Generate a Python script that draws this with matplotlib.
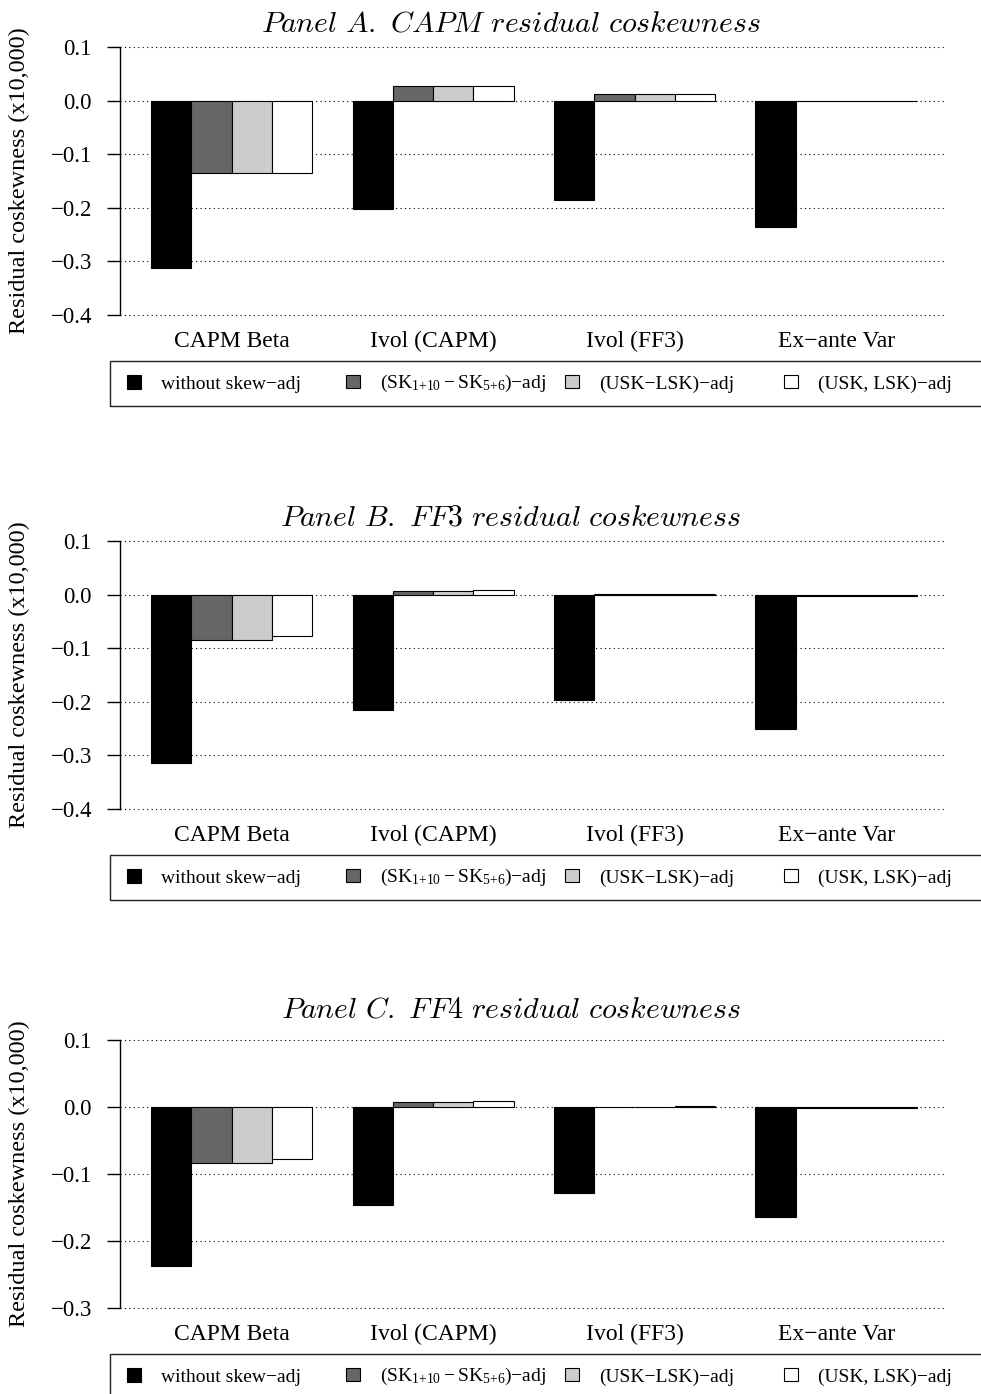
import numpy as np
import matplotlib
matplotlib.use("Agg")
import matplotlib.pyplot as plt
from matplotlib.patches import Patch, Rectangle

plt.rcParams["font.family"] = ["Liberation Serif", "DejaVu Serif"]
plt.rcParams["mathtext.fontset"] = "custom"
plt.rcParams["mathtext.rm"] = "Liberation Serif"
plt.rcParams["mathtext.default"] = "regular"
plt.rcParams["axes.unicode_minus"] = True

MINUS = "\u2212"

# ---- data ----
categories = ["CAPM Beta", "Ivol (CAPM)", "Ivol (FF3)", "Ex" + MINUS + "ante Var"]
series_labels = [
    "without skew" + MINUS + "adj",
    r"(SK$_{1{+}10}\,{-}\,$SK$_{5{+}6}$)" + MINUS + "adj",
    "(USK" + MINUS + "LSK)" + MINUS + "adj",
    "(USK, LSK)" + MINUS + "adj",
]
series_colors = ["#000000", "#666666", "#cccccc", "#ffffff"]

panel_titles = [
    r"$\mathit{Panel\ A.\ CAPM\ residual\ coskewness}$",
    r"$\mathit{Panel\ B.\ FF3\ residual\ coskewness}$",
    r"$\mathit{Panel\ C.\ FF4\ residual\ coskewness}$",
]

# rows: series, columns: categories
panel_a = [
    [-0.313, -0.202, -0.186, -0.236],
    [-0.136, 0.027, 0.013, -0.001],
    [-0.136, 0.027, 0.013, -0.001],
    [-0.136, 0.027, 0.013, -0.001],
]
panel_b = [
    [-0.314, -0.216, -0.197, -0.251],
    [-0.084, 0.006, 0.001, -0.002],
    [-0.084, 0.006, 0.001, -0.002],
    [-0.0765, 0.009, 0.002, -0.002],
]
panel_c = [
    [-0.237, -0.147, -0.129, -0.164],
    [-0.084, 0.007, 0.0005, -0.001],
    [-0.084, 0.007, 0.0005, -0.001],
    [-0.077, 0.0095, 0.002, -0.002],
]
yticks_ab = [-0.4, -0.3, -0.2, -0.1, 0.0, 0.1]
yticks_c = [-0.3, -0.2, -0.1, 0.0, 0.1]

panels = [panel_a, panel_b, panel_c]
panel_yticks = [yticks_ab, yticks_ab, yticks_c]

# ---- layout (pixels) ----
W, H = 981, 1394
tick_top_px = [47, 541, 1040]      # pixel row of the top tick (0.1)
title_px = [24, 518, 1011]
span_px = 268.0                    # tick range height
ext_px = span_px * 0.04
ax_left, ax_right = 120.4, 947.3
leg_marker_x = [127, 346, 565, 784]

fig = plt.figure(figsize=(W / 100, H / 100), dpi=100)

for p, (vals, yt) in enumerate(zip(panels, panel_yticks)):
    top = tick_top_px[p] - ext_px
    bottom = tick_top_px[p] + span_px + ext_px
    ax = fig.add_axes([ax_left / W, 1 - bottom / H,
                       (ax_right - ax_left) / W, (bottom - top) / H])

    vals = np.asarray(vals, dtype=float)
    n_ser, n_cat = vals.shape
    for k in range(n_ser):
        x = 1 + 5 * np.arange(n_cat) + k
        ax.bar(x, vals[k], width=1.0, align="edge", color=series_colors[k],
               edgecolor="black", linewidth=0.8, zorder=2)

    for t in yt:
        ax.axhline(t, color="black", lw=0.8, ls=(0, (1, 3)), zorder=1)

    r = yt[-1] - yt[0]
    ax.set_ylim(yt[0] - 0.04 * r, yt[-1] + 0.04 * r)
    ax.set_xlim(0.24, 20.76)
    ax.set_yticks(yt)
    ax.set_yticklabels([("%.1f" % t).replace("-", MINUS) for t in yt])
    ax.set_xticks(1 + 5 * np.arange(n_cat) + 2)
    ax.set_xticklabels(categories, fontsize=17)
    ax.tick_params(axis="x", length=0, pad=4)
    ax.tick_params(axis="y", length=9.5, width=1, pad=11, labelsize=16.5)

    for s in ["top", "right", "bottom"]:
        ax.spines[s].set_visible(False)
    ax.spines["left"].set_bounds(yt[0], yt[-1])
    ax.spines["left"].set_linewidth(1)

    fig.text(511 / W, 1 - title_px[p] / H, panel_titles[p], fontsize=21.5,
             ha="center", va="center", math_fontfamily="cm")
    fig.text(19 / W, 1 - (top + bottom) / 2 / H, "Residual coskewness (x10,000)",
             fontsize=17.5, rotation=90, ha="center", va="center")

    # legend frame and entries
    fr_top = bottom + 35.5
    fr_bot = bottom + 80.5
    fig.add_artist(Rectangle((110 / W, 1 - fr_bot / H), (995 - 110) / W,
                             (fr_bot - fr_top) / H, transform=fig.transFigure,
                             fill=False, edgecolor="#222222", lw=1.0))
    yc = 1 - (fr_top + fr_bot) / 2 / H
    for k in range(n_ser):
        fig.legend(handles=[Patch(facecolor=series_colors[k], edgecolor="black", lw=0.8)],
                   labels=[series_labels[k]], loc="center left",
                   bbox_to_anchor=(leg_marker_x[k] / W, yc), frameon=False,
                   borderpad=0, borderaxespad=0, handlelength=0.7, handleheight=0.7,
                   handletextpad=1.05, prop={"family": "Liberation Serif", "size": 14})

fig.savefig("out.png", dpi=100)
